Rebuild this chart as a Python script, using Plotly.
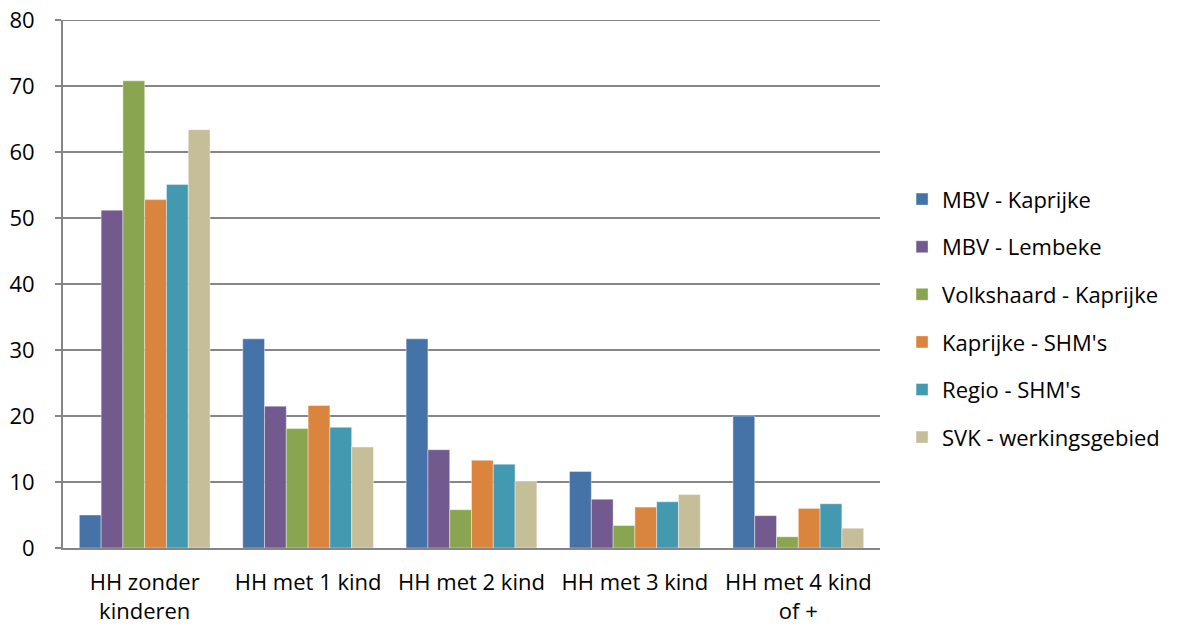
import plotly.graph_objects as go

categories = ["HH zonder<br>kinderen", "HH met 1 kind", "HH met 2 kind", "HH met 3 kind", "HH met 4 kind<br>of +"]

mbv_kaprijke = [5.0, 31.7, 31.7, 11.6, 20.0]
mbv_lembeke = [51.2, 21.5, 14.9, 7.4, 4.9]
volkshaard_kaprijke = [70.8, 18.1, 5.8, 3.4, 1.7]
kaprijke_shm = [52.8, 21.6, 13.3, 6.2, 6.0]
regio_shm = [55.1, 18.3, 12.7, 7.0, 6.7]
svk_werkingsgebied = [63.4, 15.3, 10.1, 8.1, 3.0]

series_names = ["MBV - Kaprijke", "MBV - Lembeke", "Volkshaard - Kaprijke",
                "Kaprijke - SHM's", "Regio - SHM's", "SVK - werkingsgebied"]
series_values = [mbv_kaprijke, mbv_lembeke, volkshaard_kaprijke,
                 kaprijke_shm, regio_shm, svk_werkingsgebied]
colors = ["#4572A7", "#725A8E", "#8AA54F", "#DB843D", "#4299B0", "#C6BE98"]
y_max = 80

FONT = "Open Sans, sans-serif"

fig = go.Figure()
for i, (name, vals, col) in enumerate(zip(series_names, series_values, colors)):
    fig.add_trace(go.Bar(
        x=categories, y=vals, name=name, legendgroup=f"g{i}",
        marker=dict(color=col, line=dict(color="rgba(255,255,255,0.5)", width=0.8)),
    ))

# top gridline (at the axis maximum)
fig.add_hline(y=y_max, line=dict(color="#868686", width=1.5), layer="below")

fig.update_layout(
    width=1186, height=627,
    margin=dict(l=63, r=306, t=20, b=79),
    paper_bgcolor="white", plot_bgcolor="white",
    barmode="group", bargap=0.2, bargroupgap=0,
    font=dict(family=FONT, size=22, color="black"),
    legend=dict(x=1.027, y=0.435, xanchor="left", yanchor="middle",
                font=dict(family=FONT, size=22, color="black"),
                tracegroupgap=16, itemwidth=30),
    showlegend=True,
)
fig.update_xaxes(
    showline=True, linecolor="#868686", linewidth=2,
    ticks="", showgrid=False, tickfont=dict(size=22),
    ticklabelstandoff=14, automargin=False,
)
fig.update_yaxes(
    range=[0, y_max + 0.02], tickvals=[0, 10, 20, 30, 40, 50, 60, 70, 80],
    showline=True, linecolor="#868686", linewidth=2,
    showgrid=True, gridcolor="#868686", gridwidth=1.5,
    ticks="outside", ticklen=6, tickcolor="#868686", tickwidth=1.5,
    tickfont=dict(size=22), zeroline=False,
    ticklabelstandoff=16, automargin=False,
)

fig.write_html(
    "out.html",
    config={"displayModeBar": False},
    post_script="document.body.style.margin='0';document.body.style.overflow='hidden';",
)
